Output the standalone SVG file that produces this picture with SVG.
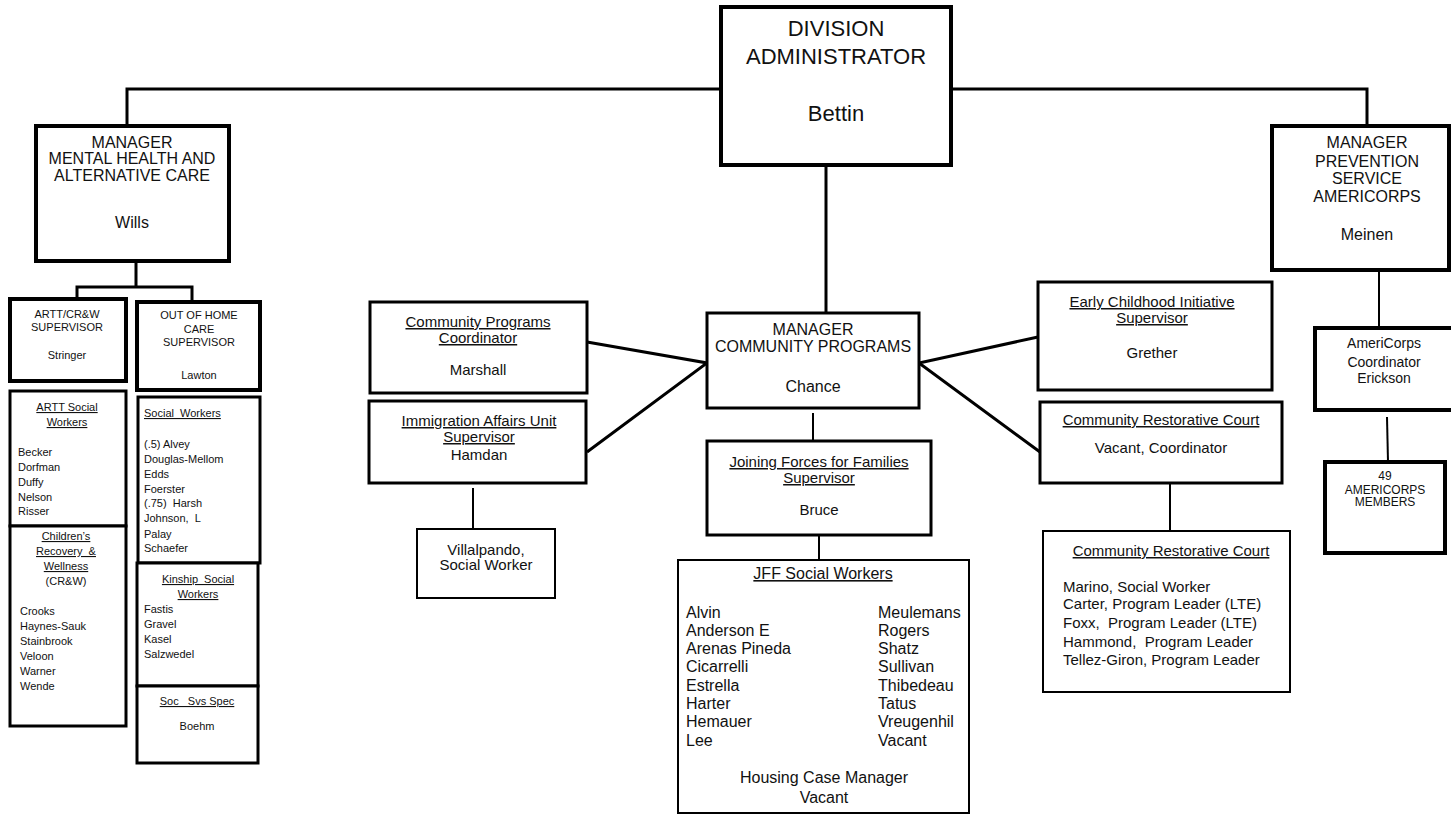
<svg xmlns="http://www.w3.org/2000/svg" width="1451" height="815" viewBox="0 0 1451 815">
<style>
text{font-family:"Liberation Sans",Arial,sans-serif;fill:#111;}
.c{text-anchor:middle;}
.u{text-decoration:underline;}
.box{fill:#fff;stroke:#000;}
.b4{stroke-width:4;}
.b3{stroke-width:3;}
.b2{stroke-width:2;}
.f22{font-size:22px;}
.f16{font-size:16px;}
.f15{font-size:15px;}
.f14{font-size:14px;}
.f12{font-size:12px;}
.f11{font-size:11px;}
.ln{fill:none;stroke:#000;stroke-width:3;}
.ln2{fill:none;stroke:#000;stroke-width:2;}
</style>
<rect width="1451" height="815" fill="#fff"/>
<g id="connectors">
<path class="ln" d="M127,126 V89 H721"/>
<path class="ln" d="M951,89 H1367 V126"/>
<path class="ln" d="M826,165 V313"/>
<path class="ln" d="M136,261 V287 M77,298 V287 H192 V300"/>
<path class="ln" d="M587,342 L707,363 L587,452"/>
<path class="ln" d="M1038,337 L919,363 L1040,452"/>
<path class="ln2" d="M473,488 V529"/>
<path class="ln2" d="M813,413 V441"/>
<path class="ln2" d="M819,535 V560"/>
<path class="ln2" d="M1170,483 V531"/>
<path class="ln2" d="M1379,270 V328"/>
<path class="ln2" d="M1387,417 L1388,462"/>
</g>
<g id="division-administrator">
<rect class="box b4" x="721" y="7" width="230" height="158"/>
<text class="c f22" x="836" y="36">DIVISION</text>
<text class="c f22" x="836" y="64">ADMINISTRATOR</text>
<text class="c f22" x="836" y="121">Bettin</text>
</g>
<g id="manager-mental-health">
<rect class="box b4" x="36" y="126" width="193" height="135"/>
<text class="c f16" x="132" y="148">MANAGER</text>
<text class="c f16" x="132" y="164">MENTAL HEALTH AND</text>
<text class="c f16" x="132" y="181">ALTERNATIVE CARE</text>
<text class="c f16" x="132" y="228">Wills</text>
</g>
<g id="artt-supervisor">
<rect class="box b4" x="10" y="299" width="116" height="82"/>
<text class="c f11" x="67" y="318">ARTT/CR&amp;W</text>
<text class="c f11" x="67" y="331">SUPERVISOR</text>
<text class="c f11" x="67" y="359">Stringer</text>
</g>
<g id="out-of-home-supervisor">
<rect class="box b4" x="137" y="302" width="123" height="88"/>
<text class="c f11" x="199" y="319">OUT OF HOME</text>
<text class="c f11" x="199" y="333">CARE</text>
<text class="c f11" x="199" y="346">SUPERVISOR</text>
<text class="c f11" x="199" y="379">Lawton</text>
</g>
<g id="artt-social-workers">
<rect class="box b3" x="10" y="391" width="116" height="135"/>
<text class="c f11 u" x="67" y="411">ARTT Social</text>
<text class="c f11 u" x="67" y="426">Workers</text>
<text class="f11" x="18" y="456">Becker</text>
<text class="f11" x="18" y="471">Dorfman</text>
<text class="f11" x="18" y="486">Duffy</text>
<text class="f11" x="18" y="501">Nelson</text>
<text class="f11" x="18" y="515">Risser</text>
</g>
<g id="childrens-recovery">
<rect class="box b3" x="10" y="526" width="116" height="200"/>
<text class="c f11 u" x="66" y="540">Children’s</text>
<text class="c f11 u" x="66" y="555" xml:space="preserve">Recovery  &amp;</text>
<text class="c f11 u" x="66" y="570">Wellness</text>
<text class="c f11" x="66" y="585">(CR&amp;W)</text>
<text class="f11" x="20" y="615">Crooks</text>
<text class="f11" x="20" y="630">Haynes-Sauk</text>
<text class="f11" x="20" y="645">Stainbrook</text>
<text class="f11" x="20" y="660">Veloon</text>
<text class="f11" x="20" y="675">Warner</text>
<text class="f11" x="20" y="690">Wende</text>
</g>
<g id="social-workers">
<rect class="box b3" x="138" y="397" width="122" height="166"/>
<text class="f11 u" x="144" y="417" xml:space="preserve">Social  Workers</text>
<text class="f11" x="144" y="448">(.5) Alvey</text>
<text class="f11" x="144" y="463">Douglas-Mellom</text>
<text class="f11" x="144" y="478">Edds</text>
<text class="f11" x="144" y="493">Foerster</text>
<text class="f11" x="144" y="507" xml:space="preserve">(.75)  Harsh</text>
<text class="f11" x="144" y="522" xml:space="preserve">Johnson,  L</text>
<text class="f11" x="144" y="538">Palay</text>
<text class="f11" x="144" y="552">Schaefer</text>
</g>
<g id="kinship-social-workers">
<rect class="box b3" x="137" y="563" width="121" height="123"/>
<text class="c f11 u" x="198" y="583" xml:space="preserve">Kinship  Social</text>
<text class="c f11 u" x="198" y="598">Workers</text>
<text class="f11" x="144" y="613">Fastis</text>
<text class="f11" x="144" y="628">Gravel</text>
<text class="f11" x="144" y="643">Kasel</text>
<text class="f11" x="144" y="658">Salzwedel</text>
</g>
<g id="soc-svs-spec">
<rect class="box b3" x="137" y="686" width="121" height="77"/>
<text class="c f11 u" x="197" y="705" xml:space="preserve">Soc   Svs Spec</text>
<text class="c f11" x="197" y="730">Boehm</text>
</g>
<g id="community-programs-coordinator">
<rect class="box b3" x="370" y="302" width="217" height="91"/>
<text class="c f15 u" x="478" y="327">Community Programs</text>
<text class="c f15 u" x="478" y="343">Coordinator</text>
<text class="c f15" x="478" y="375">Marshall</text>
</g>
<g id="immigration-affairs">
<rect class="box b3" x="369" y="401" width="217" height="82"/>
<text class="c f15 u" x="479" y="426">Immigration Affairs Unit</text>
<text class="c f15 u" x="479" y="442">Supervisor</text>
<text class="c f15" x="479" y="460">Hamdan</text>
</g>
<g id="villalpando">
<rect class="box b2" x="417" y="529" width="138" height="69"/>
<text class="c f15" x="486" y="555">Villalpando,</text>
<text class="c f15" x="486" y="570">Social Worker</text>
</g>
<g id="manager-community-programs">
<rect class="box b3" x="707" y="313" width="212" height="95"/>
<text class="c f16" x="813" y="335">MANAGER</text>
<text class="c f16" x="813" y="352">COMMUNITY PROGRAMS</text>
<text class="c f16" x="813" y="392">Chance</text>
</g>
<g id="jff-supervisor">
<rect class="box b3" x="707" y="441" width="224" height="94"/>
<text class="c f15 u" x="819" y="467">Joining Forces for Families</text>
<text class="c f15 u" x="819" y="483">Supervisor</text>
<text class="c f15" x="819" y="515">Bruce</text>
</g>
<g id="jff-social-workers">
<rect class="box b2" x="678" y="560" width="291" height="253"/>
<text class="c f16 u" x="823" y="579">JFF Social Workers</text>
<text class="f16" x="686" y="618">Alvin</text>
<text class="f16" x="686" y="636">Anderson E</text>
<text class="f16" x="686" y="654">Arenas Pineda</text>
<text class="f16" x="686" y="672">Cicarrelli</text>
<text class="f16" x="686" y="691">Estrella</text>
<text class="f16" x="686" y="709">Harter</text>
<text class="f16" x="686" y="727">Hemauer</text>
<text class="f16" x="686" y="746">Lee</text>
<text class="f16" x="878" y="618">Meulemans</text>
<text class="f16" x="878" y="636">Rogers</text>
<text class="f16" x="878" y="654">Shatz</text>
<text class="f16" x="878" y="672">Sullivan</text>
<text class="f16" x="878" y="691">Thibedeau</text>
<text class="f16" x="878" y="709">Tatus</text>
<text class="f16" x="878" y="727">Vreugenhil</text>
<text class="f16" x="878" y="746">Vacant</text>
<text class="c f16" x="824" y="783">Housing Case Manager</text>
<text class="c f16" x="824" y="803">Vacant</text>
</g>
<g id="early-childhood">
<rect class="box b3" x="1038" y="282" width="234" height="108"/>
<text class="c f15 u" x="1152" y="307">Early Childhood Initiative</text>
<text class="c f15 u" x="1152" y="323">Supervisor</text>
<text class="c f15" x="1152" y="358">Grether</text>
</g>
<g id="community-restorative-court">
<rect class="box b3" x="1040" y="402" width="242" height="81"/>
<text class="c f15 u" x="1161" y="425">Community Restorative Court</text>
<text class="c f15" x="1161" y="453">Vacant, Coordinator</text>
</g>
<g id="crc-staff">
<rect class="box b2" x="1043" y="531" width="247" height="161"/>
<text class="c f15 u" x="1171" y="556">Community Restorative Court</text>
<text class="f15" x="1063" y="592">Marino, Social Worker</text>
<text class="f15" x="1063" y="609">Carter, Program Leader (LTE)</text>
<text class="f15" x="1063" y="628" xml:space="preserve">Foxx,  Program Leader (LTE)</text>
<text class="f15" x="1063" y="647" xml:space="preserve">Hammond,  Program Leader</text>
<text class="f15" x="1063" y="665">Tellez-Giron, Program Leader</text>
</g>
<g id="manager-prevention">
<rect class="box b4" x="1272" y="126" width="177" height="144"/>
<text class="c f16" x="1367" y="148">MANAGER</text>
<text class="c f16" x="1367" y="167">PREVENTION</text>
<text class="c f16" x="1367" y="184">SERVICE</text>
<text class="c f16" x="1367" y="202">AMERICORPS</text>
<text class="c f16" x="1367" y="240">Meinen</text>
</g>
<g id="americorps-coordinator">
<rect class="box b4" x="1315" y="328" width="140" height="82"/>
<text class="c f14" x="1384" y="348">AmeriCorps</text>
<text class="c f14" x="1384" y="367">Coordinator</text>
<text class="c f14" x="1384" y="383">Erickson</text>
</g>
<g id="americorps-members">
<rect class="box b4" x="1325" y="462" width="120" height="91"/>
<text class="c f12" x="1385" y="480">49</text>
<text class="c f12" x="1385" y="494">AMERICORPS</text>
<text class="c f12" x="1385" y="506">MEMBERS</text>
</g>
</svg>
